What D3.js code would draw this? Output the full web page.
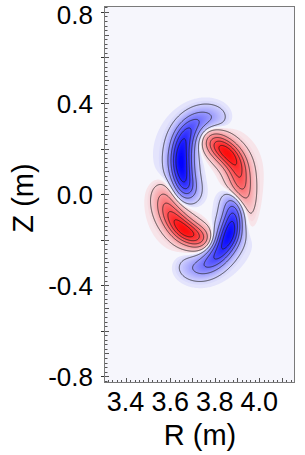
<!DOCTYPE html>
<html>
<head>
<meta charset="utf-8">
<script src="https://cdn.jsdelivr.net/npm/d3@7"></script>
<style>
  body { margin: 0; background: #fff; }
  svg { display: block; }
  text { font-family: Arial, "Liberation Sans", sans-serif; fill: #000; }
</style>
</head>
<body>
<svg id="chart" width="305" height="455"></svg>
<script>
// ridge points of each crescent lobe: [R (m), Z (m), amplitude]
const blueUpper = [[3.841, 0.329, -0.12], [3.779, 0.342, -0.25], [3.711, 0.315, -0.45], [3.662, 0.245, -0.75], [3.648, 0.139, -1.0], [3.666, 0.038, -0.75], [3.692, -0.010, -0.35]];
const redUpper = [[3.770, 0.249, 0.3], [3.814, 0.214, 0.8], [3.859, 0.179, 1.0], [3.900, 0.126, 0.7], [3.918, 0.038, 0.5], [3.927, -0.072, 0.3], [3.922, -0.169, 0.12]];
const redLower = [[3.563, 0.034, 0.15], [3.572, -0.028, 0.35], [3.603, -0.094, 0.65], [3.662, -0.160, 1.0], [3.725, -0.191, 0.7], [3.770, -0.204, 0.3]];
const blueLower = [[3.877, -0.006, -0.3], [3.892, -0.072, -0.7], [3.870, -0.169, -1.0], [3.823, -0.257, -0.7], [3.756, -0.318, -0.4], [3.689, -0.327, -0.2], [3.644, -0.310, -0.08]];
const lobes = [blueUpper, redUpper, redLower, blueLower];

const contourLevels = [0.08, 0.26, 0.44, 0.62, 0.8];
const yTicks = [-0.8, -0.4, 0.0, 0.4, 0.8];
const xTicks = [3.4, 3.6, 3.8, 4.0];

const plotLeft = 104, plotTop = 6, pw = 191, ph = 377;
const x = d3.scaleLinear().domain([3.303, 4.16]).range([plotLeft, plotLeft + pw]);
const y = d3.scaleLinear().domain([-0.83, 0.826]).range([plotTop + ph, plotTop]);
const ramp = d3.scaleLinear().domain([-1, 0, 1]).range(["#0000ff", "#f6f6fc", "#ff0000"]).clamp(true);
const color = v => ramp(Math.sign(v) * Math.pow(Math.abs(v), 0.75));

const kw = 0.035; // ridge half width in m

// smooth ridge through the control points (Catmull-Rom), sampled for the kernel
function ridgeSamples(pts) {
  const out = [];
  const P = i => pts[Math.max(0, Math.min(pts.length - 1, i))];
  for (let i = 0; i < pts.length - 1; i++) {
    const p0 = P(i - 1), p1 = P(i), p2 = P(i + 1), p3 = P(i + 2);
    for (let s = 0; s < 16; s++) {
      const t = s / 16, t2 = t * t, t3 = t2 * t;
      const cr = c => 0.5 * (2 * p1[c] + (-p0[c] + p2[c]) * t + (2 * p0[c] - 5 * p1[c] + 4 * p2[c] - p3[c]) * t2 + (-p0[c] + 3 * p1[c] - 3 * p2[c] + p3[c]) * t3);
      out.push([cr(0), cr(1), p1[2] + t * (p2[2] - p1[2])]);
    }
  }
  out.push(pts[pts.length - 1].slice());
  for (let i = 0; i < out.length; i++) {
    const a = out[Math.max(0, i - 1)], b = out[Math.min(out.length - 1, i + 1)];
    out[i].push(Math.hypot(b[0] - a[0], b[1] - a[1]) / 2);
  }
  return out;
}
const samples = lobes.map(ridgeSamples).flat();

const norm = 1 / (Math.sqrt(2 * Math.PI) * kw);
const normHalo = 1 / (Math.sqrt(2 * Math.PI) * 3 * kw);
function field(R, Z) {
  let f = 0;
  for (const [r, z, a, ds] of samples) {
    const d2 = (R - r) ** 2 + (Z - z) ** 2;
    f += a * ds * (0.94 * norm * Math.exp(-d2 / (2 * kw * kw)) + 0.06 * normHalo * Math.exp(-d2 / (18 * kw * kw)));
  }
  return f;
}

// grid, one cell per pixel of the plot area
const n = pw, m = ph;
const values = new Float64Array(n * m);
for (let j = 0; j < m; j++) {
  const Z = y.invert(plotTop + j + 0.5);
  for (let i = 0; i < n; i++) {
    values[i + j * n] = field(x.invert(plotLeft + i + 0.5), Z);
  }
}
const fmax = d3.max(values, v => Math.abs(v));
for (let k = 0; k < values.length; k++) values[k] /= fmax;
const negValues = values.map(v => -v);

const svg = d3.select("#chart");

svg.append("clipPath").attr("id", "plotClip")
  .append("rect").attr("x", 0).attr("y", 0).attr("width", pw).attr("height", ph);

const plot = svg.append("g")
  .attr("transform", `translate(${plotLeft},${plotTop})`)
  .attr("clip-path", "url(#plotClip)");

plot.append("rect")
  .attr("width", pw).attr("height", ph)
  .attr("fill", color(0));

// filled colour bands
const N = 48;
const bandThr = d3.range(1, N).map(k => k / N);
const bands = d3.contours().size([n, m]).thresholds(bandThr);
const path = d3.geoPath();

plot.append("g").selectAll("path")
  .data(bands(values))
  .enter().append("path")
  .attr("d", path)
  .attr("fill", d => color(d.value + 0.5 / N));

plot.append("g").selectAll("path")
  .data(bands(negValues))
  .enter().append("path")
  .attr("d", path)
  .attr("fill", d => color(-(d.value + 0.5 / N)));

// contour lines
const lines = d3.contours().size([n, m]).thresholds(contourLevels);
plot.append("g").selectAll("path")
  .data(lines(values).concat(lines(negValues)))
  .enter().append("path")
  .attr("d", path)
  .attr("fill", "none")
  .attr("stroke", "#1a1a1a")
  .attr("stroke-width", 0.7);

// frame
svg.append("rect")
  .attr("x", plotLeft + 0.5).attr("y", plotTop + 0.5)
  .attr("width", pw - 1).attr("height", ph - 1)
  .attr("fill", "none")
  .attr("stroke", "#7a7a7a");

// y minor ticks (inward) every 0.02
const yMinor = d3.range(-41, 42).map(k => k / 50).filter(v => v > y.domain()[0] && v < y.domain()[1]);
svg.append("g").selectAll("line")
  .data(yMinor)
  .enter().append("line")
  .attr("x1", plotLeft + 1).attr("x2", d => plotLeft + (Math.abs(Math.round(d * 50)) % 5 === 0 ? 5 : 3.5))
  .attr("y1", d => Math.round(y(d)) + 0.5).attr("y2", d => Math.round(y(d)) + 0.5)
  .attr("stroke", "#555").attr("stroke-width", 1);

// y major ticks (outward) every 0.2
svg.append("g").selectAll("line")
  .data(d3.range(-4, 5).map(k => k / 5))
  .enter().append("line")
  .attr("x1", plotLeft - 3).attr("x2", plotLeft)
  .attr("y1", d => Math.round(y(d)) + 0.5).attr("y2", d => Math.round(y(d)) + 0.5)
  .attr("stroke", "#333").attr("stroke-width", 1);

// x minor ticks (inward) every 0.02
const xMinor = d3.range(166, 208).map(k => k / 50).filter(v => v > x.domain()[0] && v < x.domain()[1]);
svg.append("g").selectAll("line")
  .data(xMinor)
  .enter().append("line")
  .attr("x1", d => Math.round(x(d)) + 0.5).attr("x2", d => Math.round(x(d)) + 0.5)
  .attr("y1", plotTop + ph - 1)
  .attr("y2", d => plotTop + ph - (Math.round(d * 50) % 5 === 0 ? 5 : 3))
  .attr("stroke", "#555").attr("stroke-width", 1);

// tick labels
svg.append("g").selectAll("text")
  .data(yTicks)
  .enter().append("text")
  .attr("x", 93)
  .attr("y", d => Math.max(24, y(d) + 10))
  .attr("text-anchor", "end")
  .style("font-size", "26px")
  .text(d => d.toFixed(1));

svg.append("g").selectAll("text")
  .data(xTicks)
  .enter().append("text")
  .attr("x", d => x(d))
  .attr("y", 411)
  .attr("text-anchor", "middle")
  .style("font-size", "27px")
  .text(d => d.toFixed(1));

// axis titles
svg.append("text")
  .attr("x", 200).attr("y", 445)
  .attr("text-anchor", "middle")
  .style("font-size", "29px")
  .text("R (m)");

svg.append("text")
  .attr("transform", "translate(33,198) rotate(-90)")
  .attr("text-anchor", "middle")
  .style("font-size", "29px")
  .text("Z (m)");
</script>
</body>
</html>
